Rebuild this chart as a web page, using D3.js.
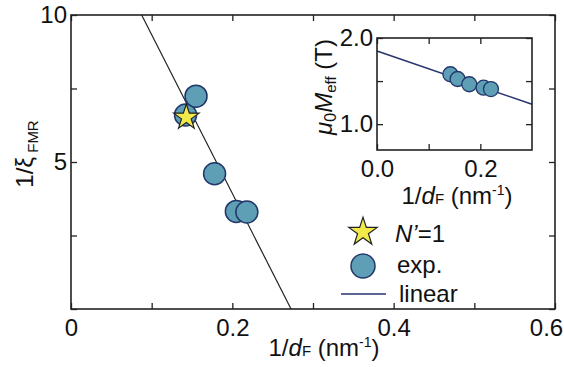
<!DOCTYPE html>
<html>
<head>
<meta charset="utf-8">
<script src="https://cdn.jsdelivr.net/npm/d3@7"></script>
<style>
  body { margin: 0; background: #fff; }
  svg { font-family: "Liberation Sans", Arial, sans-serif; }
</style>
</head>
<body>
<div id="chart"></div>
<script>
// main panel: 1/xi_FMR vs 1/dF
var expX = [0.142, 0.155, 0.178, 0.205, 0.218];
var expY = [6.6, 7.24, 4.6, 3.32, 3.30];
var starX = [0.143];
var starY = [6.52];
var fitSlope = -54.0, fitIntercept = 14.73;
var mainXTicks = [0, 0.1, 0.2, 0.3, 0.4, 0.5, 0.6];
var mainXLabels = ["0", "", "0.2", "", "0.4", "", "0.6"];
var mainYTicks = [0, 2.5, 5, 7.5, 10];
var mainYLabels = ["", "", "5", "", "10"];

// inset: mu0 Meff vs 1/dF
var insX = [0.142, 0.156, 0.1786, 0.2063, 0.2206];
var insY = [1.579, 1.524, 1.463, 1.423, 1.407];
var insSlope = -2.06, insIntercept = 1.849;
var insXTicks = [0, 0.1, 0.2];
var insXLabels = ["0.0", "", "0.2"];
var insYTicks = [1.0, 1.5, 2.0];
var insYLabels = ["1.0", "", "2.0"];

var width = 564, height = 367;
var fill = "#5e9fb6", edge = "#22376a", navy = "#26336e";
var fs = "24px", sub = "15px";

var svg = d3.select("#chart").append("svg")
    .attr("width", width).attr("height", height);

function panel(g, x, y, xt, xl, yt, yl){
    var x0 = x.range()[0], x1 = x.range()[1];
    var y0 = y.range()[0], y1 = y.range()[1];
    // ticks on all four sides, pointing in
    g.append("g").attr("class", "xax").attr("transform", "translate(0," + y0 + ")")
        .call(d3.axisBottom(x).tickValues(xt).tickSize(-6).tickPadding(10)
            .tickFormat(function(d, i){ return xl[i]; }));
    g.append("g").attr("transform", "translate(0," + y1 + ")")
        .call(d3.axisTop(x).tickValues(xt).tickSize(-6).tickFormat(""));
    g.append("g").attr("transform", "translate(" + x0 + ",0)")
        .call(d3.axisLeft(y).tickValues(yt).tickSize(-6).tickPadding(4)
            .tickFormat(function(d, i){ return yl[i]; }));
    g.append("g").attr("transform", "translate(" + x1 + ",0)")
        .call(d3.axisRight(y).tickValues(yt).tickSize(-6).tickFormat(""));
    g.selectAll(".domain").remove();
    g.selectAll(".tick line").attr("stroke", "#222").attr("stroke-width", 1.3);
    g.selectAll(".tick text").attr("font-size", fs).attr("fill", "#111")
        .attr("font-family", "Liberation Sans, Arial, sans-serif");
    g.append("rect").attr("x", x0).attr("y", y1)
        .attr("width", x1 - x0).attr("height", y0 - y1)
        .attr("fill", "none").attr("stroke", "#222").attr("stroke-width", 1.6);
}

function dfLabel(tx, ty){
    var t = svg.append("text").attr("x", tx).attr("y", ty)
        .attr("text-anchor", "middle").attr("font-size", fs).attr("fill", "#111");
    t.append("tspan").text("1/");
    t.append("tspan").attr("font-style", "italic").text("d");
    t.append("tspan").attr("font-size", sub).text("F");
    t.append("tspan").text(" (nm");
    t.append("tspan").attr("font-size", "14px").attr("dy", "-9").text("-1");
    t.append("tspan").attr("dy", "9").text(")");
}

// ---- main panel
var x = d3.scaleLinear().domain([0, 0.6]).range([71, 555]);
var y = d3.scaleLinear().domain([0, 10]).range([309, 15]);
var main = svg.append("g");

// fit line (from y=10 down to y=0)
var xa = (10 - fitIntercept) / fitSlope, xb = (0 - fitIntercept) / fitSlope;
main.append("line")
    .attr("x1", x(xa)).attr("y1", y(10)).attr("x2", x(xb)).attr("y2", y(0))
    .attr("stroke", "#222").attr("stroke-width", 1.2);

var pts = expX.map(function(d, i){ return {x: d, y: expY[i]}; });
main.selectAll(".exp").data(pts).enter().append("circle")
    .attr("class", "exp")
    .attr("cx", function(d){ return x(d.x); })
    .attr("cy", function(d){ return y(d.y); })
    .attr("r", 11)
    .attr("fill", fill).attr("stroke", edge).attr("stroke-width", 1.5);

var star = d3.symbol().type(d3.symbolStar).size(200);
main.selectAll(".star").data(starX).enter().append("path")
    .attr("class", "star")
    .attr("transform", function(d, i){ return "translate(" + x(d) + "," + y(starY[i]) + ")"; })
    .attr("d", star)
    .attr("fill", "#f2ea4a").attr("stroke", "#222").attr("stroke-width", 1.2);

panel(main, x, y, mainXTicks, mainXLabels, mainYTicks, mainYLabels);
// last x label sits against the right edge
main.select(".xax").selectAll(".tick text").filter(function(d){ return d === 0.6; })
    .attr("dx", -9);

dfLabel(324, 356);

var yt = svg.append("text").attr("transform", "translate(33,154) rotate(-90)")
    .attr("text-anchor", "middle").attr("font-size", fs).attr("fill", "#111");
yt.append("tspan").text("1/ξ");
yt.append("tspan").attr("font-size", sub).attr("dy", "5").text(" FMR");

// ---- inset
var ix = d3.scaleLinear().domain([0, 0.3]).range([377, 532]);
var iy = d3.scaleLinear().domain([0.7, 2.0]).range([150, 38]);
var inset = svg.append("g");

inset.append("line")
    .attr("x1", ix(0)).attr("y1", iy(insIntercept))
    .attr("x2", ix(0.3)).attr("y2", iy(insIntercept + insSlope * 0.3))
    .attr("stroke", navy).attr("stroke-width", 1.5);

var ipts = insX.map(function(d, i){ return {x: d, y: insY[i]}; });
inset.selectAll(".iexp").data(ipts).enter().append("circle")
    .attr("class", "iexp")
    .attr("cx", function(d){ return ix(d.x); })
    .attr("cy", function(d){ return iy(d.y); })
    .attr("r", 7.5)
    .attr("fill", fill).attr("stroke", edge).attr("stroke-width", 1.3);

panel(inset, ix, iy, insXTicks, insXLabels, insYTicks, insYLabels);

dfLabel(457, 204);

var iyt = svg.append("text").attr("transform", "translate(332,87) rotate(-90)")
    .attr("text-anchor", "middle").attr("font-size", fs).attr("fill", "#111");
iyt.append("tspan").attr("font-style", "italic").text("μ");
iyt.append("tspan").attr("font-size", "16px").attr("dy", "4").text("0");
iyt.append("tspan").attr("font-style", "italic").attr("dy", "-4").text("M");
iyt.append("tspan").attr("font-size", sub).attr("dy", "4").text("eff");
iyt.append("tspan").attr("dy", "-4").text(" (T)");

// ---- legend
var leg = svg.append("g");
leg.append("path").attr("transform", "translate(363,232)")
    .attr("d", d3.symbol().type(d3.symbolStar).size(250))
    .attr("fill", "#f2ea4a").attr("stroke", "#222").attr("stroke-width", 1.2);
var lt = leg.append("text").attr("x", 395).attr("y", 242).attr("font-size", fs).attr("fill", "#111");
lt.append("tspan").attr("font-style", "italic").text("N’");
lt.append("tspan").text("=1");
leg.append("circle").attr("cx", 363).attr("cy", 266).attr("r", 12)
    .attr("fill", fill).attr("stroke", edge).attr("stroke-width", 1.5);
leg.append("text").attr("x", 397).attr("y", 273).attr("font-size", fs).attr("fill", "#111").text("exp.");
leg.append("line").attr("x1", 341).attr("x2", 386).attr("y1", 294).attr("y2", 294)
    .attr("stroke", navy).attr("stroke-width", 1.5);
leg.append("text").attr("x", 399).attr("y", 302).attr("font-size", fs).attr("fill", "#111").text("linear");
</script>
</body>
</html>
